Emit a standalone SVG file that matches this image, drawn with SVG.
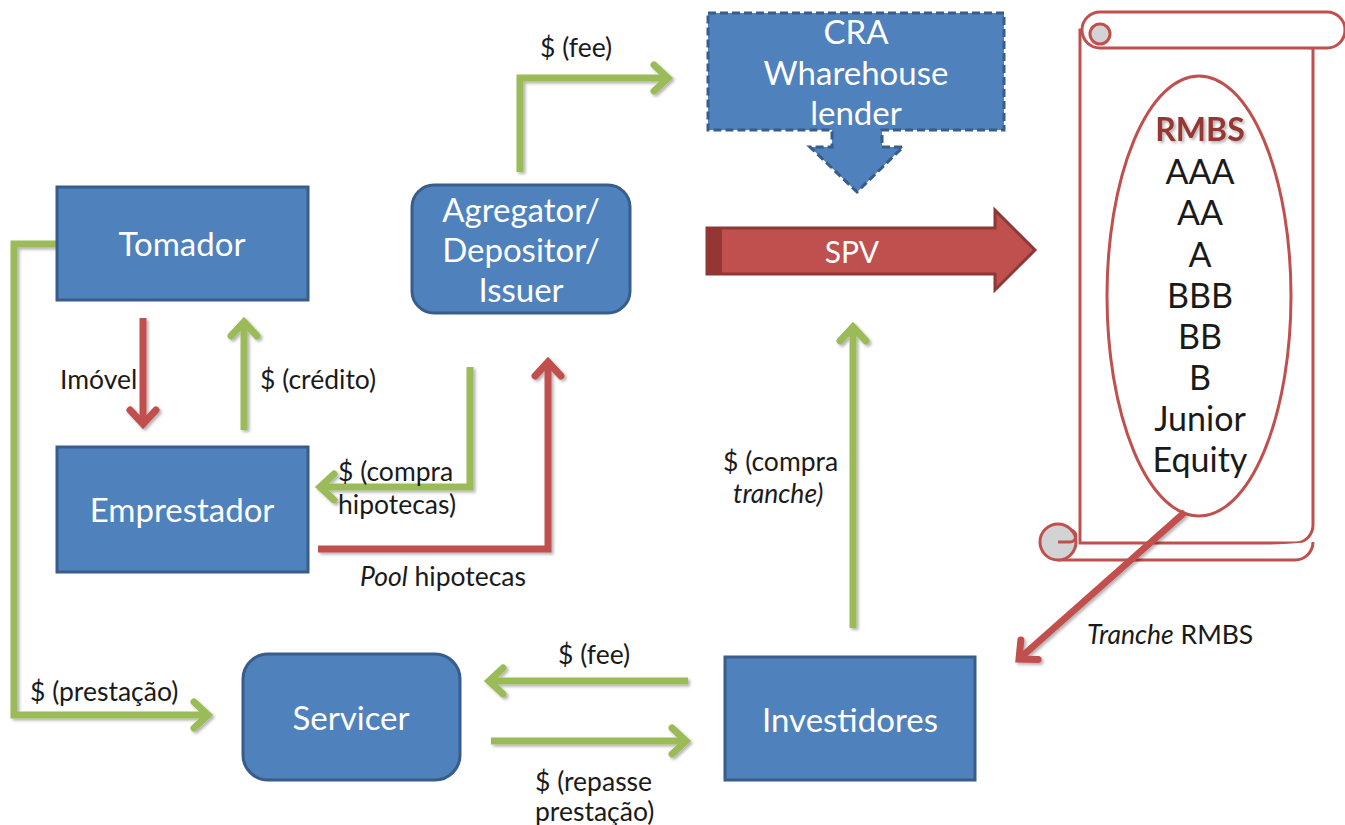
<svg xmlns="http://www.w3.org/2000/svg" width="1345" height="825" viewBox="0 0 1345 825">
<style>
.node{fill:#4F81BD;stroke:#385D8A;stroke-width:3}
.nt{font-family:Lato,"Open Sans",sans-serif;font-size:33px;fill:#fff;text-anchor:middle}
.lb{font-family:Lato,"Open Sans",sans-serif;font-size:26.5px;fill:#1a1a1a}
.sc{font-family:Lato,"Open Sans",sans-serif;font-size:34px;fill:#1a1a1a;text-anchor:middle}
.g{fill:none;stroke:#9BBB59;stroke-width:7;stroke-linejoin:miter}
.r{fill:none;stroke:#C0504D;stroke-width:7;stroke-linejoin:miter}
.scroll{fill:#fff;stroke:#C0504D;stroke-width:3}
</style>
<defs>
<filter id="sh" x="-20%" y="-20%" width="140%" height="140%">
<feDropShadow dx="2" dy="2" stdDeviation="1.5" flood-color="#000" flood-opacity="0.3"/>
</filter>
<marker id="mg" markerUnits="userSpaceOnUse" viewBox="-20 -20 26 40" refX="0" refY="0" markerWidth="26" markerHeight="40" orient="auto">
<path d="M-14,-13 L0,0 L-14,13" fill="none" stroke="#9BBB59" stroke-width="7" stroke-linecap="round"/>
</marker>
<marker id="mr" markerUnits="userSpaceOnUse" viewBox="-20 -20 26 40" refX="0" refY="0" markerWidth="26" markerHeight="40" orient="auto">
<path d="M-14,-13 L0,0 L-14,13" fill="none" stroke="#C0504D" stroke-width="7" stroke-linecap="round"/>
</marker>
</defs>
<rect width="1345" height="825" fill="#fff"/>

<g id="scroll">
<path class="scroll" d="M1080,30 V543 H1295 A18,18 0 0 0 1313,525 V48 Z"/>
<rect class="scroll" x="1082" y="12" width="263" height="36" rx="18"/>
<circle cx="1100" cy="34" r="10" fill="#D3D3D5" stroke="#C0504D" stroke-width="3"/>
<path class="scroll" d="M1058,560 H1295 A18,18 0 0 0 1313,542"/>
<circle cx="1058" cy="542" r="18" fill="#D3D3D5" stroke="#C0504D" stroke-width="3"/>
<path d="M1058,542 H1070 A6,6 0 0 0 1070,530" fill="none" stroke="#C0504D" stroke-width="3"/>
<ellipse cx="1199" cy="296" rx="92" ry="220" fill="#fff" stroke="#C0504D" stroke-width="3"/>
<text class="sc" x="1200" y="141" font-weight="bold" style="fill:#953734;font-size:32px" filter="url(#sh)">RMBS</text>
<text class="sc" x="1200" y="184">AAA</text>
<text class="sc" x="1200" y="225">AA</text>
<text class="sc" x="1200" y="267">A</text>
<text class="sc" x="1200" y="308">BBB</text>
<text class="sc" x="1200" y="349">BB</text>
<text class="sc" x="1200" y="390">B</text>
<text class="sc" x="1200" y="431">Junior</text>
<text class="sc" x="1200" y="472">Equity</text>
</g>

<g id="connectors" filter="url(#sh)">
<polyline class="g" points="57,244 14,244 14,715 208,715" marker-end="url(#mg)"/>
<line class="r" x1="143" y1="318" x2="143" y2="424" marker-end="url(#mr)"/>
<line class="g" x1="244" y1="430" x2="244" y2="322" marker-end="url(#mg)"/>
<polyline class="g" points="470,367 470,487 320,487" marker-end="url(#mg)"/>
<polyline class="r" points="318,549 548,549 548,362" marker-end="url(#mr)"/>
<polyline class="g" points="520,172 520,78 668,78" marker-end="url(#mg)"/>
<line class="g" x1="853" y1="628" x2="853" y2="327" marker-end="url(#mg)"/>
<line class="g" x1="688" y1="681" x2="489" y2="681" marker-end="url(#mg)"/>
<line class="g" x1="491" y1="741" x2="686" y2="741" marker-end="url(#mg)"/>
<line class="r" x1="1185" y1="512" x2="1019" y2="659" marker-end="url(#mr)"/>
</g>

<g id="labels">
<text class="lb" x="30" y="701">$ (prestação)</text>
<text class="lb" x="60" y="389">Imóvel</text>
<text class="lb" x="260" y="389">$ (crédito)</text>
<text class="lb" x="338" y="481">$ (compra</text>
<text class="lb" x="338" y="514">hipotecas)</text>
<text class="lb" x="360" y="586"><tspan font-style="italic">Pool</tspan> hipotecas</text>
<text class="lb" x="540" y="57">$ (fee)</text>
<text class="lb" x="723" y="471">$ (compra</text>
<text class="lb" x="733" y="503" font-style="italic">tranche)</text>
<text class="lb" x="558" y="664">$ (fee)</text>
<text class="lb" x="535" y="791">$ (repasse</text>
<text class="lb" x="535" y="821">prestação)</text>
<text class="lb" x="1087" y="644"><tspan font-style="italic">Tranche</tspan> RMBS</text>
</g>

<g id="tomador">
<rect class="node" x="57" y="187" width="251" height="113"/>
<text class="nt" x="182" y="256">Tomador</text>
</g>
<g id="emprestador">
<rect class="node" x="57" y="447" width="251" height="125"/>
<text class="nt" x="182" y="522">Emprestador</text>
</g>
<g id="agregator">
<rect class="node" x="412" y="185" width="218" height="128" rx="22"/>
<text class="nt" x="521" y="222">Agregator/</text>
<text class="nt" x="521" y="262">Depositor/</text>
<text class="nt" x="521" y="302">Issuer</text>
</g>
<g id="cra">
<path class="node" stroke-dasharray="8 4" d="M708,13 H1004 V130 H882 V147 H903 L857,192 L810,147 H832 V130 H708 Z"/>
<text class="nt" x="856" y="44">CRA</text>
<text class="nt" x="856" y="85">Wharehouse</text>
<text class="nt" x="856" y="125">lender</text>
</g>
<g id="spv">
<path d="M707,228 H995 V210 L1035,250 L995,290 V274 H707 Z" fill="#C0504D" stroke="#8C3836" stroke-width="3"/>
<rect x="707" y="229" width="15" height="44" fill="#943634"/>
<text class="nt" x="852" y="263" style="font-size:30px">SPV</text>
</g>
<g id="servicer">
<rect class="node" x="243" y="654" width="217" height="126" rx="25"/>
<text class="nt" x="351" y="730">Servicer</text>
</g>
<g id="investidores">
<rect class="node" x="725" y="657" width="250" height="123"/>
<text class="nt" x="850" y="732">Investidores</text>
</g>
</svg>
